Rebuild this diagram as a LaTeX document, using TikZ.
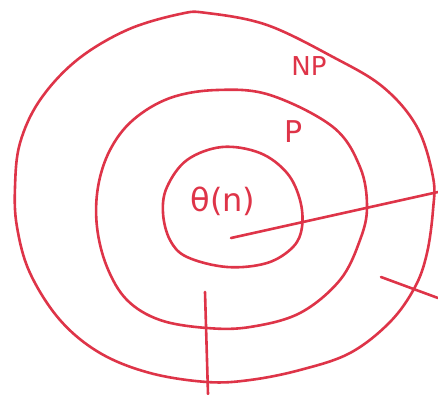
\documentclass[tikz,border=0pt]{standalone}
\usepackage{fontspec}
\setmainfont{DejaVu Sans}
\definecolor{ink}{RGB}{222,52,72}
\begin{document}
\begin{tikzpicture}[x=1pt,y=-1pt,
  curve/.style={draw=ink,line width=2.6pt,line cap=round,line join=round},
  lab/.style={text=ink,inner sep=0pt}]
\useasboundingbox (0,0) rectangle (438,394);
% outer region
\draw[curve] plot[smooth cycle,tension=0.6] coordinates {
 (207,13) (267,25) (333,57) (383,87) (417,127) (433,177) (433,210) (427,253)
 (415,287) (390,322) (350,353) (300,370) (250,380) (207,382) (150,373) (100,353)
 (60,320) (30,273) (17,227) (15,187) (20,143) (40,100) (77,60) (127,30) (180,14)};
% middle region
\draw[curve] plot[smooth cycle,tension=0.6] coordinates {
 (217,90) (270,95) (333,127) (360,167) (367,207) (360,240) (340,280) (300,313)
 (250,327) (207,328) (160,320) (127,300) (107,267) (97,227) (98,187) (110,150)
 (133,120) (170,98)};
% inner region
\draw[curve] plot[smooth cycle,tension=0.6] coordinates {
 (222,147) (260,153) (287,173) (300,200) (302,227) (293,247) (267,263) (227,267)
 (187,257) (170,240) (163,213) (167,187) (187,160)};
% labels
\node[lab,font=\fontsize{32}{32}\selectfont] (theta) at (223,201) {θ(n)};
\node[lab,font=\fontsize{30}{30}\selectfont] (p) at (294,132) {P};
\node[lab,font=\fontsize{26}{26}\selectfont] (np) at (309,66) {NP};
% pointer lines
\coordinate (a1) at (231,238);
\coordinate (b1) at (438,192);
\coordinate (a2) at (381,277);
\coordinate (b2) at (438,298);
\coordinate (a3) at (205,292);
\coordinate (b3) at (208,394);
\draw[curve] (a1) -- (b1);
\draw[curve] (a2) -- (b2);
\draw[curve] (a3) -- (b3);
\end{tikzpicture}
\end{document}
